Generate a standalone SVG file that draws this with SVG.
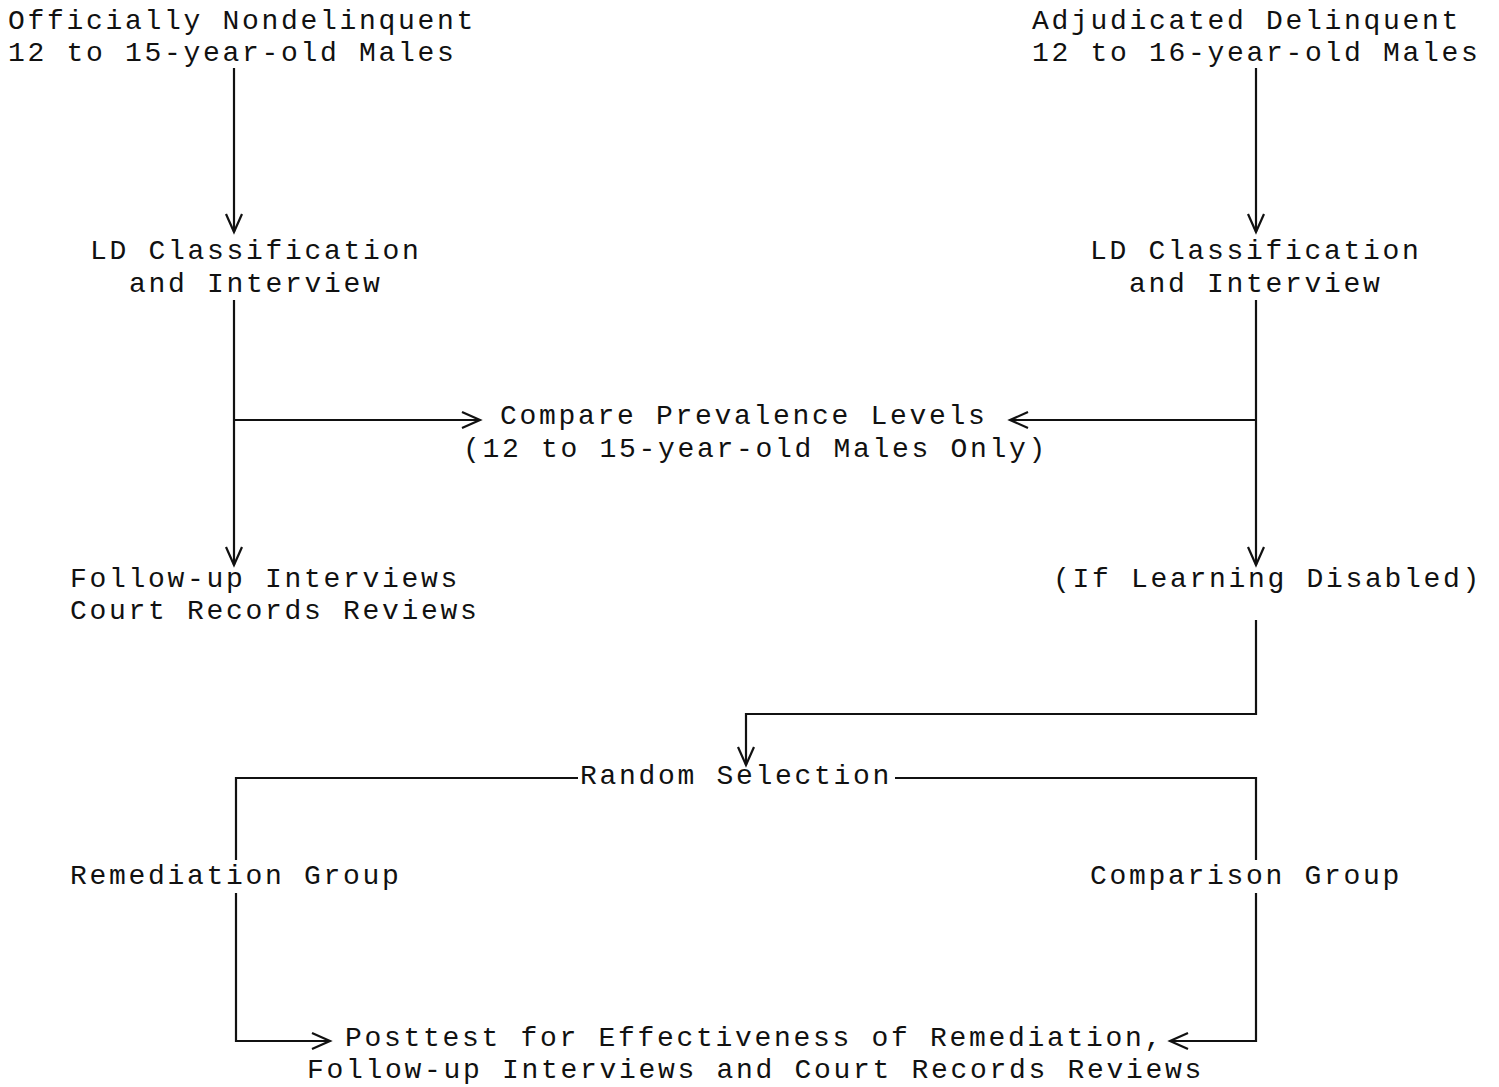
<svg xmlns="http://www.w3.org/2000/svg" width="1499" height="1087" viewBox="0 0 1499 1087">
<style>
text{font-family:"Liberation Mono","DejaVu Sans Mono",monospace;font-size:28px;letter-spacing:2.7px;fill:#111}
.c{stroke:#111;stroke-width:2.2;fill:none}
</style>
<defs>
<marker id="a" markerWidth="24" markerHeight="24" viewBox="-20 -10 24 20" refX="0" refY="0" orient="auto" markerUnits="userSpaceOnUse">
<path d="M-18,-8 L0,0 L-18,8" fill="none" stroke="#111" stroke-width="2.2"/>
</marker>
</defs>
<rect width="1499" height="1087" fill="#fff"/>
<g id="connectors">
<path class="c" d="M234,68 V232" marker-end="url(#a)"/>
<path class="c" d="M1256,68 V232" marker-end="url(#a)"/>
<path class="c" d="M234,300 V565" marker-end="url(#a)"/>
<path class="c" d="M234,420 H480" marker-end="url(#a)"/>
<path class="c" d="M1256,300 V565" marker-end="url(#a)"/>
<path class="c" d="M1256,420 H1010" marker-end="url(#a)"/>
<path class="c" d="M1256,620 V714 H746 V765" marker-end="url(#a)"/>
<path class="c" d="M578,778 H236 V860"/>
<path class="c" d="M895,778 H1256 V860"/>
<path class="c" d="M236,893 V1041 H330" marker-end="url(#a)"/>
<path class="c" d="M1256,893 V1041 H1170" marker-end="url(#a)"/>
</g>
<g id="n1"><text x="8" y="29">Officially Nondelinquent</text><text x="8" y="61">12 to 15-year-old Males</text></g>
<g id="n2"><text x="1032" y="29">Adjudicated Delinquent</text><text x="1032" y="61">12 to 16-year-old Males</text></g>
<g id="n3"><text x="90" y="259">LD Classification</text><text x="129" y="292">and Interview</text></g>
<g id="n4"><text x="1090" y="259">LD Classification</text><text x="1129" y="292">and Interview</text></g>
<g id="n5"><text x="500" y="424">Compare Prevalence Levels</text><text x="463" y="457">(12 to 15-year-old Males Only)</text></g>
<g id="n6"><text x="70" y="587">Follow-up Interviews</text><text x="70" y="619">Court Records Reviews</text></g>
<g id="n7"><text x="1053" y="587">(If Learning Disabled)</text></g>
<g id="n8"><text x="580" y="784">Random Selection</text></g>
<g id="n9"><text x="70" y="884">Remediation Group</text></g>
<g id="n10"><text x="1090" y="884">Comparison Group</text></g>
<g id="n11"><text x="345" y="1046">Posttest for Effectiveness of Remediation,</text><text x="307" y="1078">Follow-up Interviews and Court Records Reviews</text></g>
</svg>
